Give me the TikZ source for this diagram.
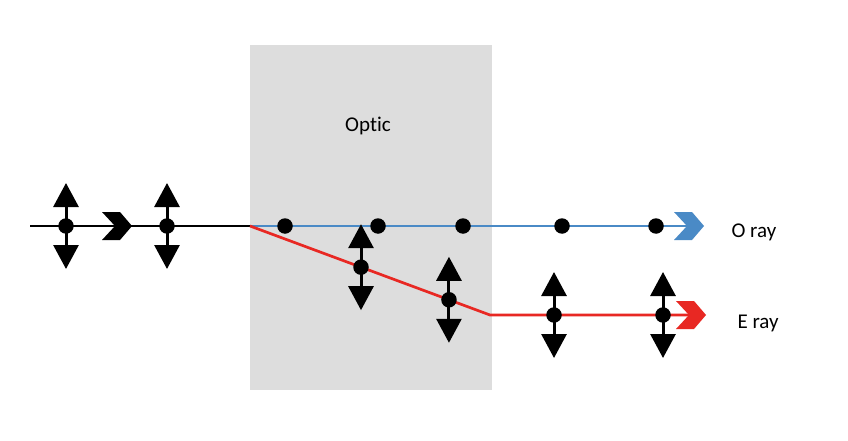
\documentclass[tikz,border=0pt]{standalone}
\usepackage{fontspec}
\setmainfont{Carlito}[Ligatures=CommonOff]
\usetikzlibrary{arrows.meta,calc}
\definecolor{oblue}{RGB}{74,138,198}
\definecolor{ered}{RGB}{232,40,35}
\definecolor{opticgray}{RGB}{221,221,221}
\tikzset{
  dot/.style={circle,fill=black,inner sep=0pt,minimum size=15.5pt},
  pol/.style={line width=3pt,-{Triangle[length=24pt,width=25pt]}},
  lab/.style={font=\fontsize{21}{25}\selectfont},
  ray/.style={line width=2.7pt},
  pics/chevron/.style={code={\fill[#1] (-30,-14) -- (-12,-14) -- (0,0) -- (-12,14) -- (-30,14) -- (-17,0) -- cycle;}},
  pics/vpol/.style={code={
    \draw[pol] (0,0) -- (0,-43);
    \draw[pol] (0,0) -- (0,43);
    \node[dot] at (0,0) {};}}
}
\begin{document}
\begin{tikzpicture}[x=1pt,y=-1pt]
\useasboundingbox (0,0) rectangle (848,441);
\fill[white] (0,0) rectangle (848,441);
% optic
\node[fill=opticgray,minimum width=242pt,minimum height=345pt,inner sep=0pt,anchor=north west] (optic) at (250,45) {};
\node[lab] (optlab) at (368,126) {Optic};
% coordinates
\coordinate (start) at (30,226);
\coordinate (entry) at (250,226);
\coordinate (bend) at (490,315);
\coordinate (otip) at (704,226);
\coordinate (etip) at (706,315);
\coordinate (ktip) at (132,226);
% rays
\draw[ray] (start) -- (entry);
\draw[ray,oblue,line width=2.2pt] (entry) -- ($(otip)+(-10,0)$);
\draw[ray,ered] (entry) -- (bend) -- ($(etip)+(-10,0)$);
% chevrons
\pic at (ktip) {chevron=black};
\pic at (otip) {chevron=oblue};
\pic at (etip) {chevron=ered};
% incoming polarisation
\pic at (66,226) {vpol};
\pic at (167,226) {vpol};
% O ray dots
\foreach \x/\n in {285/o1,378/o2,463/o3,562/o4,656/o5}
  \node[dot] (\n) at (\x,226) {};
% E ray polarisation
\pic at ($(entry)!0.4625!(bend)$) {vpol};
\pic at ($(entry)!0.829!(bend)$) {vpol};
\pic at (554,315) {vpol};
\pic at (663,315) {vpol};
% labels
\node[lab,anchor=west] (olab) at (728,232) {O ray};
\node[lab,anchor=west] (elab) at (734,323) {E ray};
\end{tikzpicture}
\end{document}
